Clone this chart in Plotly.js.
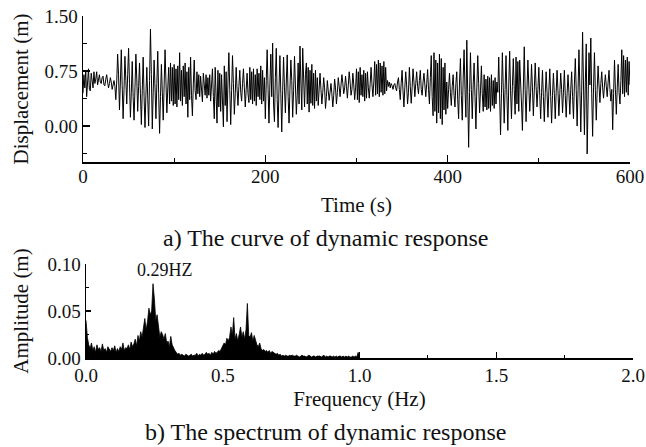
<!DOCTYPE html>
<html><head><meta charset="utf-8">
<script src="https://cdn.plot.ly/plotly-3.0.1.min.js"></script>
<style>html,body{margin:0;padding:0;background:#fff}</style>
</head><body><div id="chart" style="width:646px;height:447px"></div>
<script>
// ---- Top panel: displacement time history, one sample per second ----
const timeStep = 1;
const displacement = [
  0.45, 0.70, 0.52, 0.76, 0.40, 0.62, 0.78, 0.50, 0.48, 0.72, 0.60, 0.52, 0.74, 0.58, 0.64, 0.74, 0.56, 0.66, 0.70, 0.60,
  0.58, 0.66, 0.68, 0.56, 0.55, 0.64, 0.70, 0.60, 0.52, 0.58, 0.66, 0.60, 0.50, 0.56, 0.62, 0.54, 0.36, 0.60, 0.98, 0.70,
  0.22, 0.60, 1.04, 0.55, 0.10, 0.50, 0.95, 0.62, 0.30, 0.70, 1.06, 0.58, 0.12, 0.46, 0.88, 0.40, 0.08, 0.52, 0.98, 0.64,
  0.20, 0.54, 0.86, 0.44, 0.02, 0.48, 0.94, 0.40, -0.02, 0.42, 0.80, 0.38, 0.00, 0.62, 1.32, 0.70, -0.04, 0.46, 0.90, 0.52,
  0.10, 0.58, 1.02, 0.44, -0.10, 0.40, 0.84, 0.46, 0.08, 0.56, 1.04, 0.60, 0.18, 0.52, 0.80, 0.30, 0.86, 0.34, 0.80, 0.28,
  0.84, 0.30, 0.78, 0.26, 0.82, 0.36, 1.00, 0.34, 0.76, 0.28, 0.82, 0.40, 0.86, 0.30, 0.74, 0.12, 0.80, 0.36, 0.94, 0.42,
  0.14, 0.56, 0.90, 0.48, 0.36, 0.74, 0.44, 0.70, 0.40, 0.68, 0.46, 0.33, 0.72, 0.50, 0.42, 0.70, 0.38, 0.66, 0.42, 0.70,
  0.34, 0.56, 0.78, 0.40, 0.10, 0.80, 0.30, 0.04, 0.76, 0.26, 0.72, 0.20, 0.70, 0.34, -0.01, 0.82, 0.28, 0.74, 0.06, 0.60,
  1.00, 0.50, 0.02, 0.48, 0.96, 0.58, 0.16, 0.44, 0.80, 0.50, 0.28, 0.54, 0.76, 0.46, 0.34, 0.58, 0.78, 0.52, 0.26, 0.50,
  0.72, 0.44, 0.32, 0.80, 0.36, 0.74, 0.30, 0.78, 0.34, 0.70, 0.28, 0.78, 0.40, 0.72, 0.36, 0.82, 0.30, 0.76, 0.34, 0.66,
  0.10, 0.62, 1.04, 0.50, 0.04, 0.56, 0.98, 0.40, 1.13, 0.30, 0.06, 0.66, 1.06, 0.36, -0.02, 0.52, 0.96, 0.44, -0.08, 0.48,
  0.94, 0.52, 0.18, 0.60, 0.97, 0.40, 0.04, 0.50, 0.90, 0.62, 0.12, 0.48, 0.95, 0.56, 0.16, 0.42, 0.86, 0.30, 1.09, 0.60,
  0.22, 1.06, 0.50, 0.26, 0.70, 0.86, 0.30, 0.80, 0.19, 0.76, 0.31, 0.84, 0.28, 0.72, 0.24, 0.76, 0.34, 0.66, 0.28, 0.58,
  0.72, 0.50, 0.30, 0.46, 0.66, 0.52, 0.24, 0.40, 0.62, 0.48, 0.35, 0.46, 0.58, 0.44, 0.26, 0.42, 0.64, 0.52, 0.30, 0.46,
  0.66, 0.54, 0.40, 0.56, 0.70, 0.58, 0.44, 0.52, 0.68, 0.54, 0.38, 0.56, 0.74, 0.60, 0.42, 0.50, 0.72, 0.56, 0.36, 0.52,
  0.78, 0.36, 0.74, 0.32, 0.80, 0.42, 0.70, 0.40, 0.76, 0.34, 0.72, 0.38, 0.74, 0.52, 0.38, 0.58, 0.80, 0.56, 0.40, 0.60,
  0.88, 0.42, 0.84, 0.44, 0.90, 0.40, 0.86, 0.46, 0.82, 0.42, 0.88, 0.44, 0.80, 0.48, 0.62, 0.54, 0.60, 0.52, 0.58, 0.55,
  0.50, 0.56, 0.58, 0.52, 0.48, 0.60, 0.66, 0.50, 0.36, 0.58, 0.76, 0.48, 0.26, 0.52, 0.74, 0.56, 0.30, 0.46, 0.80, 0.54,
  0.31, 0.52, 0.78, 0.60, 0.40, 0.58, 0.74, 0.54, 0.44, 0.62, 0.76, 0.50, 0.42, 0.60, 0.72, 0.56, 0.40, 0.58, 0.77, 0.50,
  0.30, 0.66, 0.96, 0.40, 0.14, 1.00, 0.20, 0.90, 0.04, 0.86, 0.18, 0.98, 0.10, 0.92, 0.02, 0.80, 0.22, 0.86, 0.16, 0.60,
  0.24, 0.50, 0.72, 0.46, 0.28, 0.54, 0.70, 0.42, 0.26, 0.58, 0.74, 0.36, 0.10, 0.60, 0.92, 0.42, 0.08, 0.64, 1.04, 0.50,
  0.12, 1.17, 0.40, -0.29, 0.46, 1.00, 0.50, 0.10, 0.56, 0.86, 0.40, -0.04, 0.52, 0.96, 0.58, 0.18, 0.48, 0.82, 0.44, 0.20,
  0.70, 0.26, 0.64, 0.22, 0.68, 0.24, 0.66, 0.20, 0.70, 0.28, 0.62, 0.24, 0.66, 0.30, 0.60, 0.46, 0.94, 0.40, -0.12, 0.44,
  1.00, 0.52, 0.04, 0.50, 0.96, 0.42, -0.06, 0.56, 1.02, 0.48, 0.10, 0.54, 0.92, 0.50, 0.16, 0.94, 0.30, 0.88, 0.20, 0.90,
  0.40, 0.30, -0.06, 0.52, 1.08, 0.48, 0.06, 0.50, 0.90, 0.56, 0.20, 0.46, 0.84, 0.52, 0.14, 0.48, 0.86, 0.54, 0.26, 0.50,
  0.80, 0.42, 0.10, 0.46, 0.76, 0.40, 0.06, 0.44, 0.74, 0.46, 0.12, 0.48, 0.78, 0.40, 0.04, 0.42, 0.72, 0.44, 0.10, 0.46,
  0.76, 0.48, 0.14, 0.44, 0.72, 0.50, 0.18, 0.46, 0.76, 0.42, 0.12, 0.44, 0.70, 0.46, 0.16, 0.50, 0.74, 0.40, 0.10, 0.56,
  0.92, 0.50, 0.00, 0.48, 1.04, 0.52, -0.08, 0.48, 1.28, 0.56, -0.12, 0.60, 1.12, -0.38, 0.40, 1.00, 0.56, 1.20, 0.44, -0.14,
  0.52, 1.00, 0.48, 0.08, 0.50, 0.82, 0.56, 0.32, 0.58, 0.74, 0.52, 0.38, 0.56, 0.70, 0.54, 0.40, 0.60, 0.76, 0.50, 0.34,
  0.50, -0.05, 0.44, 0.90, 0.50, 0.16, 0.52, 0.84, 0.46, 0.30, 0.62, 1.04, 0.44, 0.96, 0.40, 0.90, 0.46, 0.94, 0.42, 0.88,
  0.56
];

// ---- Bottom panel: amplitude spectrum (frequency step in Hz) ----
const freqStep = 0.005;
const amplitude = [
  0.040, 0.022, 0.014, 0.010, 0.016, 0.008, 0.012, 0.006, 0.014, 0.009,
  0.011, 0.007, 0.015, 0.008, 0.010, 0.006, 0.012, 0.009, 0.007, 0.011,
  0.008, 0.013, 0.006, 0.010, 0.007, 0.012, 0.009, 0.016, 0.008, 0.011,
  0.010, 0.014, 0.009, 0.017, 0.012, 0.015, 0.020, 0.013, 0.024, 0.018,
  0.028, 0.022, 0.034, 0.042, 0.030, 0.039, 0.053, 0.046, 0.050, 0.079,
  0.063, 0.040, 0.046, 0.030, 0.022, 0.028, 0.025, 0.020, 0.026, 0.016,
  0.018, 0.012, 0.023, 0.014, 0.010, 0.008, 0.006, 0.004, 0.005, 0.003,
  0.004, 0.003, 0.002, 0.004, 0.003, 0.002, 0.003, 0.004, 0.002, 0.003,
  0.003, 0.005, 0.002, 0.004, 0.003, 0.005, 0.003, 0.004, 0.006, 0.004,
  0.005, 0.003, 0.006, 0.004, 0.007, 0.005, 0.006, 0.008, 0.007, 0.010,
  0.012, 0.016, 0.014, 0.021, 0.018, 0.022, 0.033, 0.024, 0.043, 0.020,
  0.026, 0.018, 0.025, 0.033, 0.022, 0.028, 0.020, 0.030, 0.058, 0.024,
  0.022, 0.027, 0.018, 0.024, 0.019, 0.014, 0.012, 0.016, 0.010, 0.008,
  0.009, 0.007, 0.008, 0.006, 0.008, 0.005, 0.007, 0.006, 0.005, 0.004,
  0.005, 0.003, 0.004, 0.002, 0.003, 0.002, 0.003, 0.002, 0.002, 0.003,
  0.002, 0.003, 0.002, 0.002, 0.003, 0.002, 0.001, 0.002, 0.003, 0.002,
  0.002, 0.001, 0.002, 0.003, 0.002, 0.001, 0.002, 0.002, 0.001, 0.002,
  0.002, 0.002, 0.001, 0.002, 0.003, 0.001, 0.002, 0.001, 0.002, 0.002,
  0.001, 0.002, 0.001, 0.002, 0.001, 0.002, 0.002, 0.001, 0.002, 0.001,
  0.002, 0.001, 0.002, 0.001, 0.001, 0.002, 0.001, 0.002, 0.001, 0.006,
  0.001
];

// ---- Ticks and labels ----
const timeTicks = [0, 200, 400, 600];
const dispTicks = [0, 0.75, 1.5];
const dispTickText = ['0.00', '0.75', '1.50'];
const freqTicks = [0, 0.5, 1.0, 1.5, 2.0];
const freqTickText = ['0.0', '0.5', '1.0', '1.5', '2.0'];
const ampTicks = [0, 0.05, 0.10];
const ampTickText = ['0.00', '0.05', '0.10'];
const peakLabel = '0.29HZ';
const peakLabelPos = [0.29, 0.0936];
const captionA = 'a) The curve of dynamic response';
const captionB = 'b) The spectrum of dynamic response';

const FONT = '"Liberation Serif", "Times New Roman", serif';
const INK = '#111';

const baseAxis = {
  showline: true, linecolor: '#000', linewidth: 1.5,
  showgrid: false, zeroline: false, ticks: 'inside', tickwidth: 1.5,
  tickcolor: '#000', tickfont: {family: FONT, size: 19, color: INK},
  automargin: false
};

const data = [
  {type: 'scatter', mode: 'lines', x0: 0, dx: timeStep, y: displacement,
   xaxis: 'x', yaxis: 'y', line: {color: '#000', width: 1.0}, hoverinfo: 'skip'},
  {type: 'scatter', mode: 'lines', x0: 0, dx: freqStep, y: amplitude,
   xaxis: 'x2', yaxis: 'y2', fill: 'tozeroy', fillcolor: '#000',
   line: {color: '#000', width: 0.8}, hoverinfo: 'skip'}
];

const layout = {
  width: 646, height: 447,
  margin: {l: 0, r: 0, t: 0, b: 0},
  paper_bgcolor: '#fff', plot_bgcolor: '#fff',
  showlegend: false,
  font: {family: FONT, color: INK},
  xaxis: Object.assign({}, baseAxis, {
    domain: [83/646, 630/646], range: [0, 600], anchor: 'y',
    tickvals: timeTicks, ticklen: 7, ticklabelstandoff: -3,
    minor: {ticks: 'inside', ticklen: 4, tickwidth: 1.2, dtick: 100, tick0: 0, tickcolor: '#000'},
    title: {text: 'Time (s)', standoff: 11, font: {family: FONT, size: 21, color: INK}}
  }),
  yaxis: Object.assign({}, baseAxis, {
    domain: [1 - 162/447, 1 - 16/447], range: [-0.49, 1.5], anchor: 'x',
    tickvals: dispTicks, ticktext: dispTickText, ticklen: 7,
    minor: {ticks: 'inside', ticklen: 4, tickwidth: 1.2, dtick: 0.75, tick0: -0.375, tickcolor: '#000'},
    title: {text: 'Displacement (m)', standoff: 10, font: {family: FONT, size: 21, color: INK}}
  }),
  xaxis2: Object.assign({}, baseAxis, {
    domain: [86/646, 633/646], range: [0, 2.0], anchor: 'y2',
    tickvals: freqTicks, ticktext: freqTickText, ticklen: 6,
    minor: {ticks: 'inside', ticklen: 3, tickwidth: 1.2, dtick: 0.25, tick0: 0, tickcolor: '#000'},
    title: {text: 'Frequency (Hz)', standoff: 6, font: {family: FONT, size: 21, color: INK}}
  }),
  yaxis2: Object.assign({}, baseAxis, {
    domain: [1 - 358/447, 1 - 264/447], range: [0, 0.10], anchor: 'x2',
    tickvals: ampTicks, ticktext: ampTickText, ticklen: 5,
    minor: {ticks: 'inside', ticklen: 3, tickwidth: 1.2, dtick: 0.05, tick0: 0.025, tickcolor: '#000'},
    title: {text: 'Amplitude (m)', standoff: 13, font: {family: FONT, size: 21, color: INK}}
  }),
  annotations: [
    {xref: 'x2', yref: 'y2', x: peakLabelPos[0], y: peakLabelPos[1], text: peakLabel,
     showarrow: false, xanchor: 'center', yanchor: 'middle',
     font: {family: FONT, size: 18, color: INK}},
    {xref: 'paper', yref: 'paper', x: 325/646, y: 1 - 238/447, text: captionA,
     showarrow: false, xanchor: 'center', yanchor: 'middle',
     font: {family: FONT, size: 24, color: INK}},
    {xref: 'paper', yref: 'paper', x: 325/646, y: 1 - 432/447, text: captionB,
     showarrow: false, xanchor: 'center', yanchor: 'middle',
     font: {family: FONT, size: 24, color: INK}}
  ]
};

Plotly.newPlot('chart', data, layout, {staticPlot: true, displayModeBar: false});
</script></body></html>
